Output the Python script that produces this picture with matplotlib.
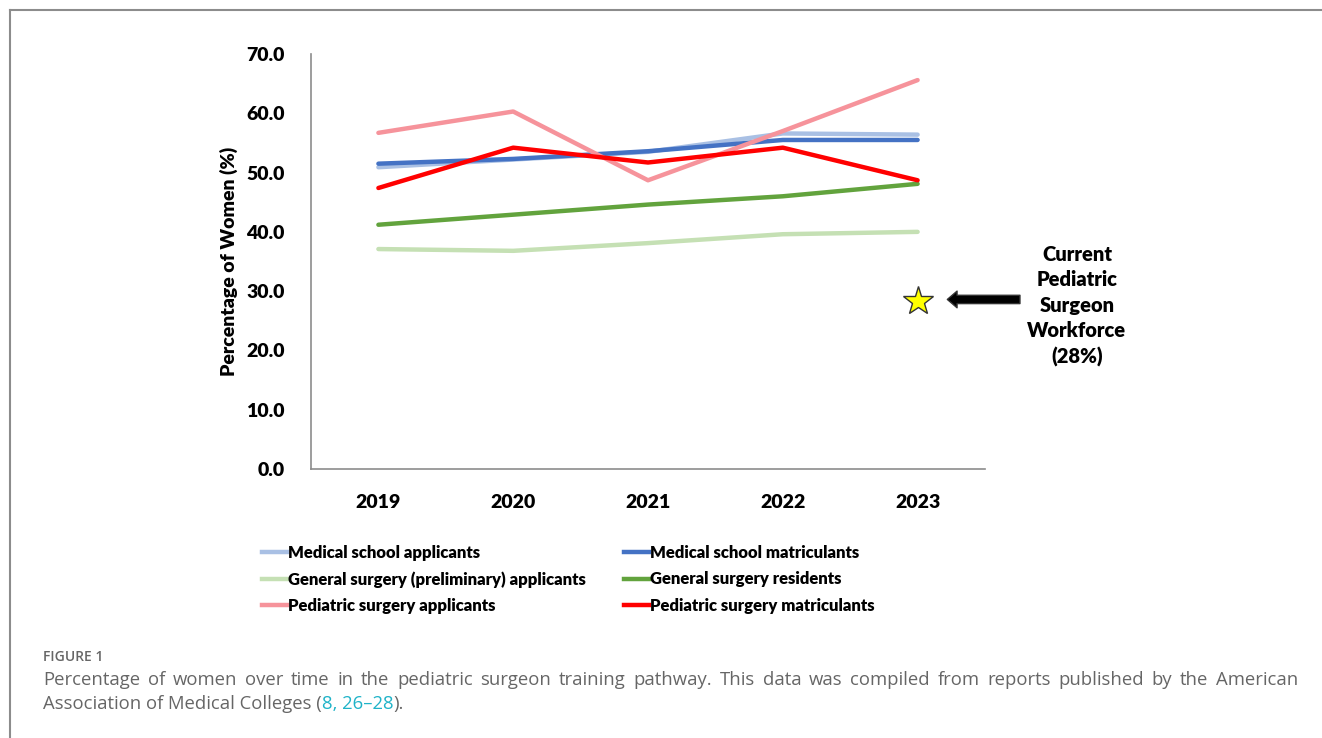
import matplotlib
matplotlib.use('Agg')
import matplotlib.pyplot as plt
from matplotlib.lines import Line2D

plt.rcParams['font.family'] = ['Lato', 'DejaVu Sans']

years = [2019, 2020, 2021, 2022, 2023]
med_applicants = [50.9, 52.2, 53.5, 56.6, 56.4]
med_matriculants = [51.5, 52.3, 53.6, 55.5, 55.5]
gs_prelim_applicants = [37.1, 36.8, 38.1, 39.6, 40.0]
gs_residents = [41.2, 42.9, 44.6, 46.0, 48.1]
ped_applicants = [56.7, 60.3, 48.7, 57.0, 65.6]
ped_matriculants = [47.4, 54.2, 51.7, 54.2, 48.7]
workforce_year = 2023
workforce_pct = 28.3
yticks = [0, 10, 20, 30, 40, 50, 60, 70]

series = [
    ('Medical school applicants', med_applicants, '#A9C0E4'),
    ('Medical school matriculants', med_matriculants, '#4472C4'),
    ('General surgery (preliminary) applicants', gs_prelim_applicants, '#C5E0B4'),
    ('General surgery residents', gs_residents, '#62A33D'),
    ('Pediatric surgery applicants', ped_applicants, '#F6939B'),
    ('Pediatric surgery matriculants', ped_matriculants, '#FF0000'),
]

W = 'heavy'

fig = plt.figure(figsize=(13.22, 7.38), dpi=100)
ax = fig.add_axes([311 / 1322, 1 - 469 / 738, (985 - 311) / 1322, (469 - 54) / 738])

for label, vals, col in series:
    ax.plot(years, vals, color=col, lw=3.2, solid_capstyle='round', label=label)

ax.plot([workforce_year], [workforce_pct], marker='*', ms=22, mfc='#FFFF00',
        mec='#333333', mew=1.0, ls='none', zorder=5)

ax.set_xlim(2018.5, 2023.5)
ax.set_ylim(0, 70)
ax.set_xticks(years)
ax.set_xticklabels([str(y) for y in years], fontsize=14, fontweight=W)
ax.set_yticks(yticks)
ax.set_yticklabels([f'{v:.1f}' for v in yticks], fontsize=14, fontweight=W)
ax.tick_params(length=0)
ax.tick_params(axis='x', pad=18)
ax.tick_params(axis='y', pad=19)
for s in ['top', 'right']:
    ax.spines[s].set_visible(False)
for s in ['left', 'bottom']:
    ax.spines[s].set_color('#8c8c8c')
    ax.spines[s].set_linewidth(1.2)
ax.set_ylabel('Percentage of Women (%)', fontsize=14, fontweight=W, labelpad=6)

# arrow pointing at the star
ax.annotate('', xy=(2023.2, workforce_pct + 0.3), xytext=(2023.78, workforce_pct + 0.3),
            annotation_clip=False,
            arrowprops=dict(arrowstyle='simple,head_length=0.7,head_width=1.2,tail_width=0.6',
                        fc='#000000', ec='#333333', lw=1))
fig.text(1077 / 1322, 1 - 306 / 738, 'Current\nPediatric\nSurgeon\nWorkforce\n(28%)',
         ha='center', va='center', fontsize=14.5, fontweight=W, linespacing=1.4)

handles = [Line2D([0], [0], color=c, lw=3.2) for _, _, c in series]
labels = [l for l, _, _ in series]
order = [0, 2, 4, 1, 3, 5]
leg = fig.legend([handles[i] for i in order], [labels[i] for i in order], ncol=2,
                 loc='upper left', bbox_to_anchor=(247 / 1322, 1 - 530 / 738),
                 frameon=False, handlelength=1.5, handletextpad=0.05,
                 columnspacing=2.3, labelspacing=0.62,
                 prop={'size': 12, 'weight': W})

# figure frame
fig.add_artist(Line2D([10 / 1322, 1], [1 - 10 / 738, 1 - 10 / 738], color='#8c8c8c', lw=1.5))
fig.add_artist(Line2D([10 / 1322, 10 / 1322], [0, 1 - 10 / 738], color='#8c8c8c', lw=1.5))

fig.text(43 / 1322, 1 - 657 / 738, 'FIGURE 1', fontsize=10, color='#666666',
         va='center', ha='left', family='Open Sans', fontweight='semibold')

# caption, first line justified
cap_color = '#666666'
link_color = '#1FB3C8'
cap_font = ['Open Sans', 'DejaVu Sans']
line1 = ('Percentage of women over time in the pediatric surgeon training pathway. '
         'This data was compiled from reports published by the American').split()
fig.canvas.draw()
renderer = fig.canvas.get_renderer()
x0, x1 = 43, 1298
y1 = 1 - 680 / 738
widths = []
tmp = []
for w in line1:
    t = fig.text(0, 0, w, fontsize=13.3, color=cap_color, family=cap_font)
    widths.append(t.get_window_extent(renderer).width)
    tmp.append(t)
gap = (x1 - x0 - sum(widths)) / (len(line1) - 1)
x = x0
for t, w in zip(tmp, widths):
    t.set_position((x / 1322, y1))
    t.set_va('center')
    x += w + gap

y2 = 1 - 704 / 738
parts = [('Association of Medical Colleges (', cap_color), ('8, 26\u201328', link_color), (').', cap_color)]
x = x0
for txt, col in parts:
    t = fig.text(x / 1322, y2, txt, fontsize=13.3, color=col, va='center', family=cap_font)
    x += t.get_window_extent(renderer).width

fig.savefig('out.png', dpi=100)
